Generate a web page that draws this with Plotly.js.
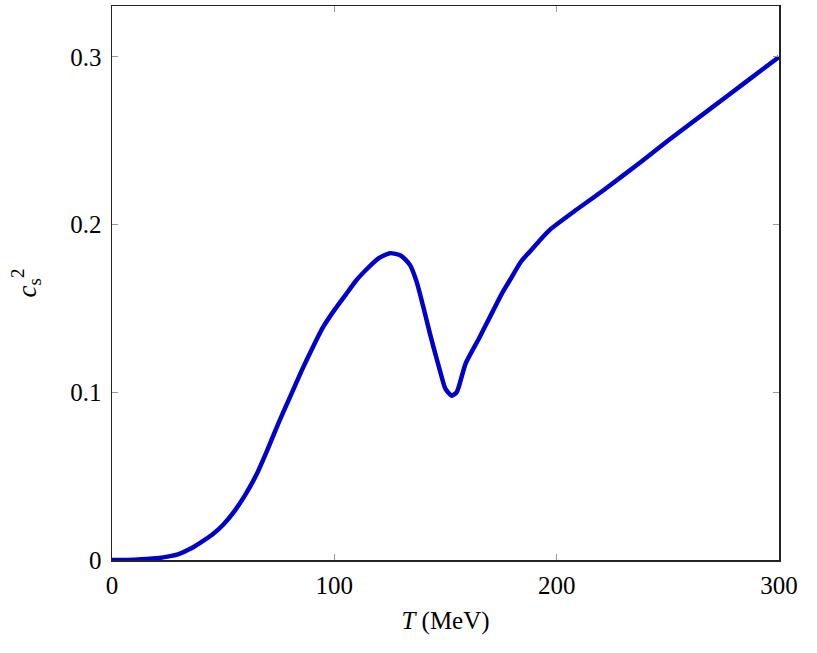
<!DOCTYPE html>
<html>
<head>
<meta charset="utf-8">
<script src="https://cdn.plot.ly/plotly-3.0.1.min.js"></script>
<style>
  body { margin: 0; background: white; }
  #graph { width: 817px; height: 653px; }
</style>
</head>
<body>
<div id="graph"></div>
<script>
// temperature in MeV
var T = [0, 10, 20, 25, 30, 35, 40, 45, 50, 55, 60, 65, 70, 75, 80, 85, 90, 95, 100, 105,
         110, 115, 120, 125, 130, 134, 137, 140, 143, 145, 147.5, 150, 152.8, 155, 157, 159,
         165, 170, 175, 179, 184, 188, 192, 197, 209, 220, 238, 250, 268, 285, 300];
// speed of sound squared
var cs2 = [0, 0.0002, 0.001, 0.002, 0.0035, 0.0065, 0.0105, 0.015, 0.021, 0.029, 0.039,
           0.051, 0.066, 0.082, 0.097, 0.112, 0.126, 0.139, 0.149, 0.158, 0.167, 0.174,
           0.180, 0.183, 0.1815, 0.176, 0.166, 0.151, 0.135, 0.125, 0.113, 0.102, 0.098,
           0.100, 0.108, 0.117, 0.132, 0.145, 0.158, 0.167, 0.178, 0.184, 0.190, 0.197,
           0.209, 0.2195, 0.2375, 0.250, 0.268, 0.285, 0.300];

var xticks = [0, 100, 200, 300];
var yticks = [0, 0.1, 0.2, 0.3];
var ytickText = ['0', '0.1', '0.2', '0.3'];

var serif = 'Liberation Serif, DejaVu Serif, serif';

var trace = {
  x: T,
  y: cs2,
  mode: 'lines',
  line: {color: '#0000cc', width: 4.5, shape: 'spline', smoothing: 0.6},
  hoverinfo: 'skip'
};

var axisCommon = {
  showgrid: false,
  zeroline: false,
  showline: true,
  linecolor: '#222',
  linewidth: 1.5,
  mirror: 'ticks',
  ticks: 'inside',
  ticklen: 6,
  tickwidth: 1,
  tickcolor: '#999',
  tickfont: {family: serif, size: 25, color: 'black'}
};

var layout = {
  width: 817,
  height: 653,
  margin: {l: 112, r: 38, t: 6, b: 93},
  paper_bgcolor: 'white',
  plot_bgcolor: 'white',
  showlegend: false,
  xaxis: Object.assign({}, axisCommon, {
    range: [0, 300],
    tickvals: xticks,
    ticktext: xticks.map(String),
    ticklabelstandoff: 2,
    title: {text: '<i>T</i> (MeV)', font: {family: serif, size: 25, color: 'black'}, standoff: 14}
  }),
  yaxis: Object.assign({}, axisCommon, {
    range: [0, 0.3304],
    tickvals: yticks,
    ticktext: ytickText,
    ticklabelstandoff: 4,
    title: {text: '<i>c</i><sub>s</sub><sup>2</sup>', font: {family: serif, size: 27, color: 'black'}, standoff: 26}
  })
};

Plotly.newPlot('graph', [trace], layout, {staticPlot: true});
</script>
</body>
</html>
